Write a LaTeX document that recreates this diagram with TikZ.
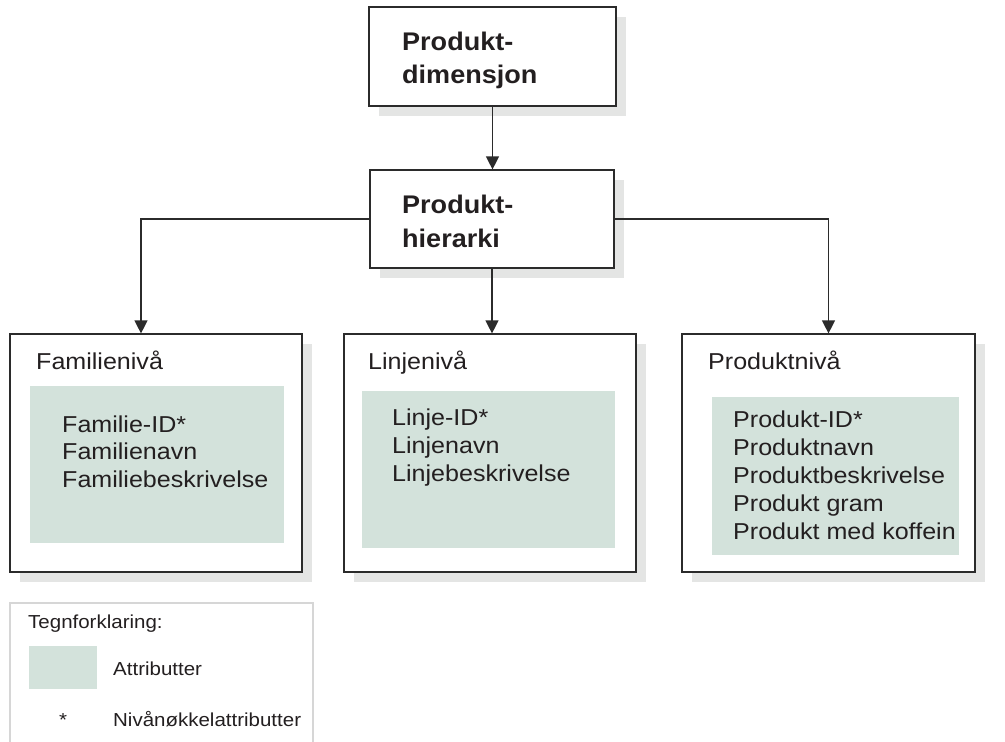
\documentclass[tikz,border=0pt]{standalone}
\usepackage{fontspec}
\setmainfont{Liberation Sans}
\newfontfamily\widesans[FakeStretch=1.09]{Liberation Sans}
\newfontfamily\widebold[FakeStretch=1.06,BoldFont={Liberation Sans Bold}]{Liberation Sans}
\usetikzlibrary{arrows.meta,shadows}
\definecolor{ink}{HTML}{231F20}
\definecolor{frame}{HTML}{2B2B2B}
\definecolor{shade}{HTML}{E4E5E4}
\definecolor{attr}{HTML}{D3E2DB}
\definecolor{legendline}{HTML}{D6D6D6}
\tikzset{
  box/.style={draw=frame, line width=1.2pt, fill=white, inner sep=0pt,
    drop shadow={shadow xshift=10pt, shadow yshift=-10pt, fill=shade, opacity=1}},
  attrbox/.style={fill=attr, inner sep=0pt},
  title/.style={anchor=base west, inner sep=0pt, text=ink, font=\widebold\fontsize{25.5}{30}\selectfont\bfseries},
  level/.style={anchor=base west, inner sep=0pt, text=ink, font=\widesans\fontsize{23}{28}\selectfont},
  item/.style={anchor=base west, inner sep=0pt, text=ink, font=\widesans\fontsize{23}{28}\selectfont},
  legendtext/.style={anchor=base west, inner sep=0pt, text=ink, font=\widesans\fontsize{18.8}{22}\selectfont},
  arr/.style={draw=frame, line width=1.3pt, -{Triangle[width=13pt,length=13pt]}},
}
\begin{document}
\begin{tikzpicture}[x=1pt,y=-1pt]
\clip (0,0) rectangle (1005,742);
\fill[white] (0,0) rectangle (1005,742);

% top-level boxes
\node[box, minimum width=247pt, minimum height=99pt] (dim) at (492.5,56.5) {};
\node[title] (dimA) at (402,50) {Produkt-};
\node[title] (dimB) at (402,83) {dimensjon};

\node[box, minimum width=244pt, minimum height=98pt] (hier) at (492,219) {};
\node[title] (hierA) at (402,213) {Produkt-};
\node[title] (hierB) at (402,247) {hierarki};

% level boxes
\node[box, minimum width=292pt, minimum height=238pt] (fam) at (156,453) {};
\node[box, minimum width=292pt, minimum height=238pt] (lin) at (490,453) {};
\node[box, minimum width=293pt, minimum height=238pt] (prod) at (828.5,453) {};

% attribute areas
\node[attrbox, minimum width=254pt, minimum height=157pt] (famA) at (157,464.5) {};
\node[attrbox, minimum width=253pt, minimum height=157pt] (linA) at (488.5,469.5) {};
\node[attrbox, minimum width=247pt, minimum height=158pt] (prodA) at (835.5,476) {};

% level titles
\node[level] (famT) at (36,369) {Familienivå};
\node[level] (linT) at (368,369) {Linjenivå};
\node[level] (prodT) at (708,369) {Produktnivå};

% attribute lists
\foreach \t [count=\i from 0] in {Familie-ID*,Familienavn,Familiebeskrivelse}
  \node[item] (famI\i) at (62,432+27.5*\i) {\t};
\foreach \t [count=\i from 0] in {Linje-ID*,Linjenavn,Linjebeskrivelse}
  \node[item] (linI\i) at (392,425+28*\i) {\t};
\foreach \t [count=\i from 0] in {Produkt-ID*,Produktnavn,Produktbeskrivelse,Produkt gram,Produkt med koffein}
  \node[item] (prodI\i) at (733,427+28*\i) {\t};

% connectors
\draw[arr] (dim.south) -- (dim.south |- hier.north);
\draw[arr] (hier.west) -| ([xshift=-15pt]fam.north);
\draw[arr] (hier.south) -- (hier.south |- lin.north);
\draw[arr] (hier.east) -| (prod.north);

% legend
\draw[legendline, line width=1.2pt] (10,760) -- (10,603) -- (313,603) -- (313,760);
\node[legendtext] (legT) at (28,628) {Tegnforklaring:};
\node[attrbox, minimum width=68pt, minimum height=43pt] (legS) at (63,667.5) {};
\node[legendtext] (legA) at (113,675) {Attributter};
\node[legendtext, anchor=base] (legStar) at (63,726) {*};
\node[legendtext] (legK) at (113,726) {Nivånøkkelattributter};
\end{tikzpicture}
\end{document}
